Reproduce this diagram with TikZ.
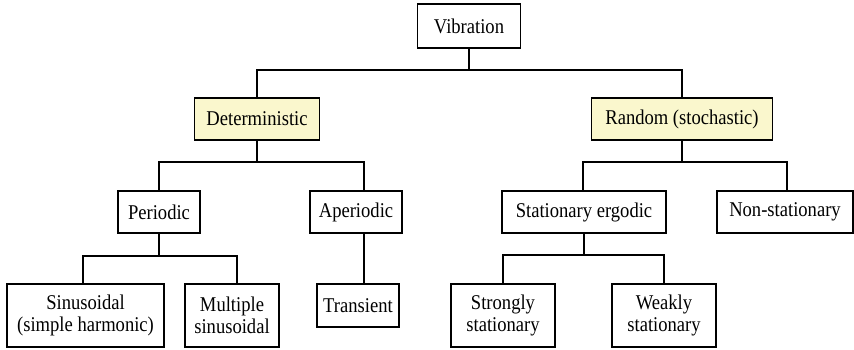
\documentclass[tikz,border=0pt]{standalone}
\usepackage{fontspec}
\setmainfont[FakeStretch=0.885]{Liberation Serif}
\definecolor{boxyellow}{RGB}{250,247,205}
\tikzset{
  box/.style={draw=black, line width=1.6pt, fill=white, inner sep=0pt, align=center,
    font=\fontsize{21}{22}\selectfont},
  hl/.style={fill=boxyellow},
  conn/.style={draw=black, line width=1.6pt}
}
\begin{document}
\begin{tikzpicture}[x=1pt, y=-1pt]
\useasboundingbox (0,0) rectangle (854,350);
% nodes
\node[box, minimum width=103pt, minimum height=44pt] (vib) at (469,26) {Vibration};
\node[box, hl, minimum width=125pt, minimum height=42pt] (det) at (257,119) {Deterministic};
\node[box, hl, minimum width=181pt, minimum height=42pt] (ran) at (682,119) {Random (stochastic)};
\node[box, minimum width=82pt, minimum height=42pt] (per) at (159,212) {Periodic};
\node[box, minimum width=92pt, minimum height=42pt] (aper) at (356,212) {Aperiodic};
\node[box, minimum width=164pt, minimum height=42pt] (sta) at (584,212) {Stationary ergodic};
\node[box, minimum width=136pt, minimum height=42pt] (non) at (785,212) {Non-stationary};
\node[box, minimum width=157pt, minimum height=63pt] (sin) at (85.5,315.5) {Sinusoidal\\(simple harmonic)};
\node[box, minimum width=94pt, minimum height=63pt] (mul) at (232,315.5) {Multiple\\sinusoidal};
\node[box, minimum width=82pt, minimum height=43pt] (tra) at (358,305.5) {Transient};
\node[box, minimum width=104pt, minimum height=63pt] (str) at (503,315.5) {Strongly\\stationary};
\node[box, minimum width=104pt, minimum height=63pt] (wea) at (664,315.5) {Weakly\\stationary};
% junction coordinates
\coordinate (j0) at (469,70);
\coordinate (jl) at (257,70);
\coordinate (jr) at (682,70);
\coordinate (d1) at (159,162);
\coordinate (d2) at (364,162);
\coordinate (r1) at (583,162);
\coordinate (r2) at (787,162);
\coordinate (p1) at (83,256);
\coordinate (p2) at (237,256);
\coordinate (s1) at (503,255);
\coordinate (s2) at (664,255);
% connectors
\draw[conn] (vib.south) -- (j0);
\draw[conn] (det.north) -- (jl) -- (jr) -- (ran.north);
\draw[conn] (det.south) -- (det.south |- d1);
\draw[conn] (per.north -| d1) -- (d1) -- (d2) -- (d2 |- aper.north);
\draw[conn] (ran.south) -- (ran.south |- r1);
\draw[conn] (r1 |- sta.north) -- (r1) -- (r2) -- (r2 |- non.north);
\draw[conn] (per.south) -- (per.south |- p1);
\draw[conn] (p1 |- sin.north) -- (p1) -- (p2) -- (p2 |- mul.north);
\draw[conn] (d2 |- aper.south) -- (d2 |- tra.north);
\draw[conn] (s1 -| sta.south) -- (sta.south);
\draw[conn] (s1 |- str.north) -- (s1) -- (s2) -- (s2 |- wea.north);
\end{tikzpicture}
\end{document}
